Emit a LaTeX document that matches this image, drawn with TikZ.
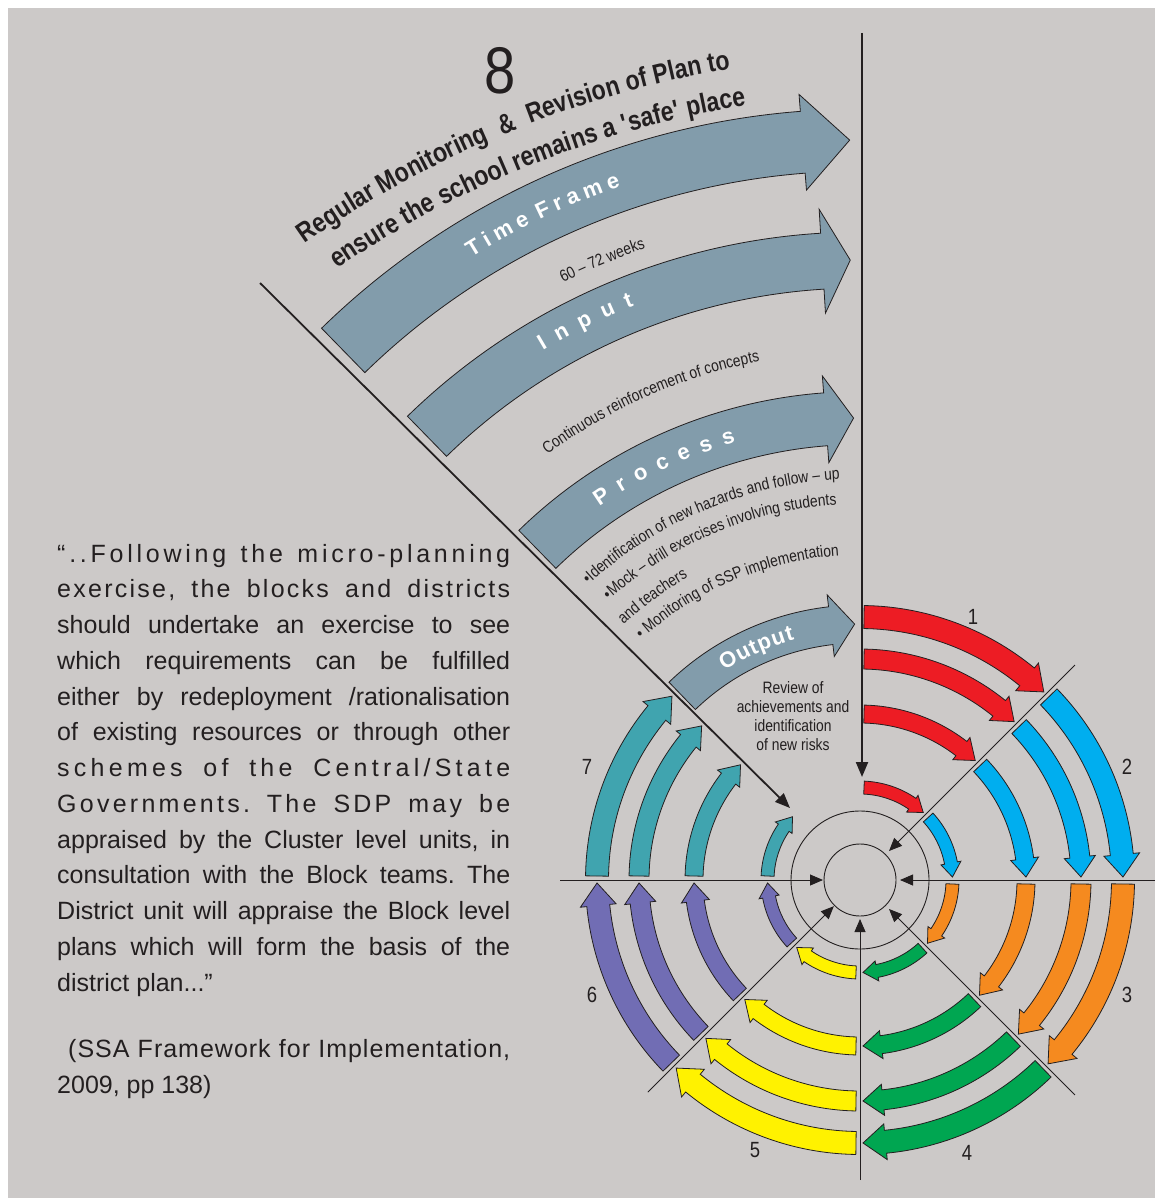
\documentclass[tikz,border=0pt]{standalone}
\usepackage{fontspec}
\usepackage{graphicx}
\setmainfont{Liberation Sans}
\newfontfamily\narrowfont{Liberation Sans}[FakeStretch=0.84]
\usetikzlibrary{arrows.meta,decorations.text}
\definecolor{bgc}{HTML}{CCC9C8}
\definecolor{ink}{HTML}{231F20}
\definecolor{cred}{HTML}{ED1C24}
\definecolor{cblue}{HTML}{00AEEF}
\definecolor{corange}{HTML}{F58A1F}
\definecolor{cgreen}{HTML}{00A651}
\definecolor{cyellow}{HTML}{FFF200}
\definecolor{cpurple}{HTML}{716DB4}
\definecolor{cteal}{HTML}{40A4AF}
\definecolor{cgray}{HTML}{829CAB}

\newcommand\tgap[1]{\hspace*{#1pt}}

% curved block arrow: #1 fill, #2 mid radius, #3 width, #4 tail angle, #5 tip angle, #6 head length, #7 barb
\newcommand\ringarrow[7]{%
  \pgfmathsetmacro\rO{#2+#3/2}%
  \pgfmathsetmacro\rI{#2-#3/2}%
  \pgfmathsetmacro\aB{#5+#6/#2*57.29578}%
  \pgfmathsetmacro\rOb{\rO+#7}%
  \pgfmathsetmacro\rIb{\rI-#7}%
  \filldraw[outl,fill=#1] (#4:\rO) arc[start angle=#4,end angle=\aB,radius=\rO]
    -- (\aB:\rOb) -- (#5:#2) -- (\aB:\rIb) -- (\aB:\rI)
    arc[start angle=\aB,end angle=#4,radius=\rI] -- cycle;%
}
\newcommand\sectorset[2]{%
  \foreach \rad/\wid in {263/23,221/20,166/18,92.5/13}{%
    \pgfmathsetmacro\ta{#2-4/\rad*57.29578}%
    \pgfmathsetmacro\tb{#2-45+3/\rad*57.29578}%
    \pgfmathsetmacro\hdl{0.85*\wid+3}%
    \pgfmathsetmacro\brb{0.28*\wid}%
    \ringarrow{#1}{\rad}{\wid}{\ta}{\tb}{\hdl}{\brb}%
  }%
}
\newcommand\arctext[5]{%
  \pgfmathsetmacro\aS{#4+45}%
  \pgfmathsetmacro\aE{#4-45}%
  \path[decorate,decoration={text along path,text align=center,text color=#2,text={|#1|#5}}]
    (\aS:#3) arc[start angle=\aS,end angle=\aE,radius=#3];%
}
\newcommand\arctextl[5]{%
  \pgfmathsetmacro\aE{#4-70}%
  \path[decorate,decoration={text along path,text align=left,text color=#2,text={|#1|#5}}]
    (#4:#3) arc[start angle=#4,end angle=\aE,radius=#3];%
}

\begin{document}
\begin{tikzpicture}[x=1pt,y=1pt,
  outl/.style={draw=ink,line width=0.8pt,line join=miter},
  heavy/.style={draw=ink,line width=2.2pt,-{Triangle[length=15pt,width=12pt]}},
  medium/.style={draw=ink,line width=1.8pt,-{Triangle[length=15pt,width=12pt]}},
  light/.style={draw=ink,line width=0.9pt,-{Triangle[length=13pt,width=11pt]}},
  ringline/.style={draw=ink,line width=0.9pt},
  num/.style={text=ink,font=\narrowfont\fontsize{22}{22}\selectfont,inner sep=0}]
\useasboundingbox (0,0) rectangle (1155,-1198);
\fill[white] (0,0) rectangle (1155,-1198);
\fill[bgc] (8,-8) rectangle (1155,-1198);

\coordinate (C) at (860,-880);
\coordinate (T) at (905,-1097);

\begin{scope}[shift={(C)}]
  % sector 8 grey arrows
  \ringarrow{cgray}{740}{62}{134.3}{90.8}{47}{17}
  \ringarrow{cgray}{620}{56}{134.3}{90.9}{28}{24}
  \ringarrow{cgray}{462}{53}{134.3}{90.8}{28}{17}
  \ringarrow{cgray}{256}{38}{134.0}{91.2}{24}{12}
  % sectors 1-7
  \sectorset{cred}{90}
  \sectorset{cblue}{45}
  \sectorset{corange}{0}
  \sectorset{cgreen}{-45}
  \sectorset{cyellow}{-90}
  \sectorset{cpurple}{-135}
  \sectorset{cteal}{180}
  % circles
  \draw[ringline] (0,0) circle[radius=36];
  \draw[ringline] (0,0) circle[radius=69];
  % spokes
  \coordinate (s1a) at (45:304);   \coordinate (s1b) at (45:41);
  \coordinate (s2a) at (0:295);    \coordinate (s2b) at (0:40);
  \coordinate (s3a) at (-45:304);  \coordinate (s3b) at (-45:41);
  \coordinate (s4a) at (-90:300);  \coordinate (s4b) at (-90:39);
  \coordinate (s5a) at (-135:300); \coordinate (s5b) at (-135:37);
  \coordinate (s6a) at (180:300);  \coordinate (s6b) at (180:37);
  \draw[light] (s1a) -- (s1b);
  \draw[light] (s2a) -- (s2b);
  \draw[light] (s3a) -- (s3b);
  \draw[light] (s4a) -- (s4b);
  \draw[light] (s5a) -- (s5b);
  \draw[light] (s6a) -- (s6b);

  % labels in grey arrows
  \arctext{\fontsize{22}{22}\selectfont\bfseries}{white}{734}{115.5}{T{\tgap{5.5}}i{\tgap{5.5}}m{\tgap{5.5}}e{\tgap{10}}F{\tgap{5.5}}r{\tgap{5.5}}a{\tgap{5.5}}m{\tgap{5.5}}e}
  \arctext{\fontsize{22}{22}\selectfont\bfseries}{white}{617}{116.2}{I{\tgap{12}}n{\tgap{12}}p{\tgap{12}}u{\tgap{12}}t}
  \arctext{\fontsize{22}{22}\selectfont\bfseries}{white}{455}{115.4}{P{\tgap{11}}r{\tgap{11}}o{\tgap{11}}c{\tgap{11}}e{\tgap{11}}s{\tgap{11}}s}
  \arctext{\fontsize{22}{22}\selectfont\bfseries}{white}{249}{114.1}{O{\tgap{1}}u{\tgap{1}}t{\tgap{1}}p{\tgap{1}}u{\tgap{1}}t}
  % small texts
  \arctext{\narrowfont\fontsize{16.5}{16.5}\selectfont}{ink}{667}{112.6}{60 – 72 weeks}
  \arctext{\narrowfont\fontsize{16.5}{16.5}\selectfont}{ink}{528}{113.65}{Continuous reinforcement of concepts}
  \arctextl{\narrowfont\fontsize{16.5}{16.5}\selectfont}{ink}{401}{132.6}{•Identification of new hazards and follow – up}
  \arctextl{\narrowfont\fontsize{16.5}{16.5}\selectfont}{ink}{376}{131.9}{•Mock – drill exercises involving students}
  \arctextl{\narrowfont\fontsize{16.5}{16.5}\selectfont}{ink}{348}{132.8}{and teachers}
  \arctextl{\narrowfont\fontsize{16.5}{16.5}\selectfont}{ink}{325}{132.2}{• Monitoring of SSP implementation}
\end{scope}

% title along a flatter arc
\begin{scope}[shift={(T)}]
  \arctext{\narrowfont\bfseries\fontsize{27.5}{28}\selectfont}{ink}{1043}{112.4}{Regular Monitoring {\tgap{7}}{\&}{\tgap{7}} Revision of Plan to}
  \arctext{\narrowfont\bfseries\fontsize{27.5}{28}\selectfont}{ink}{1004}{111.8}{ensure the school remains a {\textquotesingle}safe{\textquotesingle} place}
\end{scope}

% heavy lines
\coordinate (vtop) at (862,-33);
\coordinate (vend) at (862,-777);
\coordinate (dtop) at (260,-283);
\coordinate (dend) at (790,-808);
\draw[heavy] (vtop) -- (vend);
\draw[medium] (dtop) -- (dend);

% big 8
\node[text=ink,inner sep=0] (eight) at (500,-71) {\fontsize{66}{66}\selectfont\scalebox{0.85}[1]{8}};

% review text
\node[text=ink,align=center,inner sep=0,font=\narrowfont\fontsize{16.5}{19}\selectfont] (review) at (793,-716)
  {Review of\\achievements and\\identification\\of new risks};

% sector numbers
\node[num] (n1) at (973,-617) {1};
\node[num] (n2) at (1127,-767) {2};
\node[num] (n3) at (1127,-995) {3};
\node[num] (n4) at (967,-1153) {4};
\node[num] (n5) at (755,-1150) {5};
\node[num] (n6) at (592,-995) {6};
\node[num] (n7) at (587,-767) {7};

% quote
\node[anchor=base west,inner sep=0,text=ink] (quote) at (57,-562) {\parbox[t]{453pt}{\fontsize{25}{35.75}\selectfont\frenchspacing
\makebox[453pt][s]{\addfontfeature{LetterSpace=15}“..Following the micro-planning}\\
\makebox[453pt][s]{\addfontfeature{LetterSpace=9}exercise, the blocks and districts}\\
\makebox[453pt][s]{should undertake an exercise to see}\\
\makebox[453pt][s]{which requirements can be fulfilled}\\
\makebox[453pt][s]{either by redeployment /rationalisation}\\
\makebox[453pt][s]{of existing resources or through other}\\
\makebox[453pt][s]{\addfontfeature{LetterSpace=17}schemes of the Central/State}\\
\makebox[453pt][s]{\addfontfeature{LetterSpace=13}Governments. The SDP may be}\\
\makebox[453pt][s]{appraised by the Cluster level units, in}\\
\makebox[453pt][s]{consultation with the Block teams. The}\\
\makebox[453pt][s]{District unit will appraise the Block level}\\
\makebox[453pt][s]{plans which will form the basis of the}\\
district plan...”}};

\node[anchor=base west,inner sep=0,text=ink] (cite) at (57,-1057) {\parbox[t]{453pt}{\fontsize{25}{36}\selectfont\frenchspacing
\hspace*{11pt}\makebox[442pt][s]{\addfontfeature{LetterSpace=4}(SSA Framework for Implementation,}\\
2009, pp 138)}};
\end{tikzpicture}
\end{document}
